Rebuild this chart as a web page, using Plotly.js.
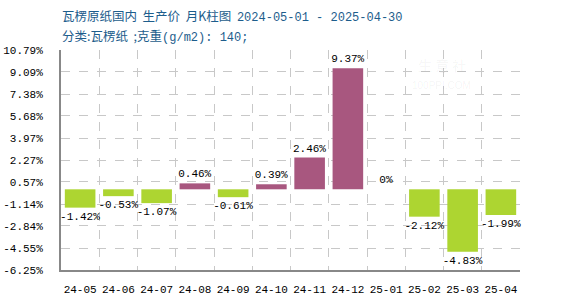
<!DOCTYPE html>
<html>
<head>
<meta charset="utf-8">
<script src="https://cdn.plot.ly/plotly-3.0.1.min.js"></script>
<style>html,body{margin:0;padding:0;background:#fff;}#chart{width:570px;height:300px;}</style>
</head>
<body>
<div id="chart"></div>
<script>
const months = ['24-05','24-06','24-07','24-08','24-09','24-10','24-11','24-12','25-01','25-02','25-03','25-04'];
const changes = [-1.42, -0.53, -1.07, 0.46, -0.61, 0.39, 2.46, 9.37, 0, -2.12, -4.83, -1.99];
const yTicks = [10.79, 9.09, 7.38, 5.68, 3.97, 2.27, 0.57, -1.14, -2.84, -4.55, -6.25];

const POS = '#a8577f', NEG = '#add531';
const mono = '"Liberation Mono", "DejaVu Sans Mono", monospace';

const trace = {
  type: 'bar',
  x: months,
  y: changes,
  marker: {color: changes.map(v => v > 0 ? POS : (v < 0 ? NEG : POS))},
  text: changes.map(v => v + '%'),
  textposition: 'outside',
  constraintext: 'none',
  cliponaxis: false,
  textfont: {family: mono, size: 11, color: '#000'},
  hoverinfo: 'none'
};

const sp = '\u00a0\u00a0';
const layout = {
  width: 570, height: 300,
  margin: {l: 61, r: 50, t: 50, b: 30},
  paper_bgcolor: '#fff', plot_bgcolor: '#fff',
  showlegend: false,
  bargap: 0.2,
  xaxis: {
    type: 'category',
    tickson: 'boundaries',
    tickangle: 0,
    showgrid: true, gridcolor: '#c8c8c8', griddash: 'dash', gridwidth: 1,
    showline: true, linecolor: '#888', linewidth: 2,
    ticks: '', ticklabelstandoff: 8,
    tickfont: {family: mono, size: 11, color: '#000'},
    zeroline: false, fixedrange: true
  },
  yaxis: {
    range: [yTicks[yTicks.length - 1], yTicks[0]],
    tickmode: 'array',
    tickvals: yTicks,
    ticktext: yTicks.map(v => v.toFixed(2) + '%'),
    showgrid: true, gridcolor: '#c8c8c8', griddash: 'dash', gridwidth: 1,
    showline: true, linecolor: '#888', linewidth: 2,
    ticks: '', ticklabelstandoff: 14,
    tickfont: {family: mono, size: 11, color: '#000'},
    zeroline: false, fixedrange: true
  },
  annotations: [
    {xref: 'paper', yref: 'paper', x: -0.002, y: 1.159, xanchor: 'left', yanchor: 'middle', showarrow: false,
     text: '瓦楞原纸国内' + sp + '生产价' + sp + '月K柱图' + sp + '<span style="font-family:\'Liberation Mono\',monospace;font-size:12px">2024-05-01 - 2025-04-30</span>',
     font: {family: '"Noto Sans CJK SC", sans-serif', size: 12.5, color: '#1d5d8c'}},
    {xref: 'paper', yref: 'paper', x: -0.002, y: 1.068, xanchor: 'left', yanchor: 'middle', showarrow: false,
     text: '分类:瓦楞纸' + sp + ';克重<span style="font-family:\'Liberation Mono\',monospace;font-size:12px">(g/m2): 140;</span>',
     font: {family: '"Noto Sans CJK SC", sans-serif', size: 12.5, color: '#1d5d8c'}},
    {xref: 'paper', yref: 'paper', x: 0.83, y: 0.93, xanchor: 'center', yanchor: 'middle', showarrow: false,
     text: '生 意 社', font: {family: '"Noto Sans CJK SC", sans-serif', size: 14, color: 'rgba(0,0,0,0.05)'}},
    {xref: 'paper', yref: 'paper', x: 0.83, y: 0.84, xanchor: 'center', yanchor: 'middle', showarrow: false,
     text: '100PPI.COM', font: {family: 'Liberation Sans, sans-serif', size: 10, color: 'rgba(0,0,0,0.05)'}}
  ]
};

Plotly.newPlot('chart', [trace], layout, {displayModeBar: false, staticPlot: true});
</script>
</body>
</html>
